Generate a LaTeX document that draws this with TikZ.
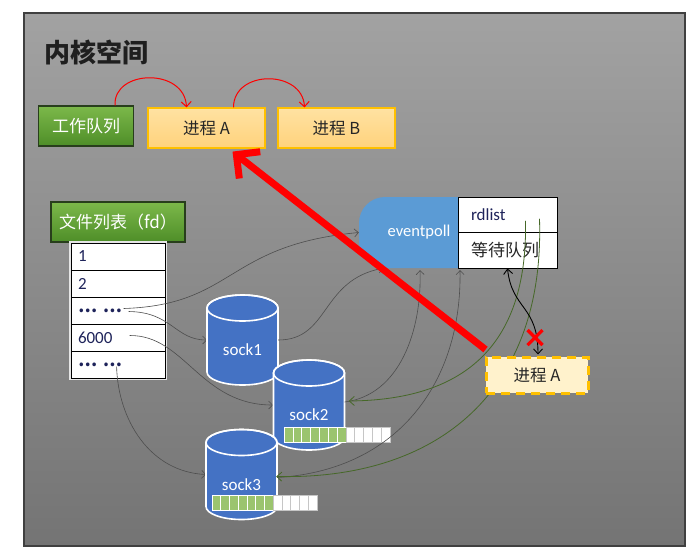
\documentclass[tikz,border=0pt]{standalone}
\usepackage{fontspec}
\setmainfont{Carlito}
\newfontfamily\cjk{Noto Sans CJK SC}
\usetikzlibrary{arrows.meta,calc}
\definecolor{panelTop}{RGB}{162,162,162}
\definecolor{panelBot}{RGB}{116,116,116}
\definecolor{gTop}{RGB}{124,184,74}
\definecolor{gBot}{RGB}{78,142,40}
\definecolor{gBorder}{RGB}{40,62,28}
\definecolor{yTop}{RGB}{255,226,162}
\definecolor{yBot}{RGB}{255,210,124}
\definecolor{yBorder}{RGB}{255,192,0}
\definecolor{sockBlue}{RGB}{68,114,196}
\definecolor{epBlue}{RGB}{91,155,213}
\definecolor{creamFill}{RGB}{255,242,204}
\definecolor{lineGray}{RGB}{78,78,78}
\definecolor{lineGreen}{RGB}{70,104,40}
\definecolor{barGreen}{RGB}{155,196,110}
\definecolor{navyText}{RGB}{30,35,90}
\definecolor{arrowRed}{RGB}{255,0,0}
\tikzset{
  greenbox/.style={draw=gBorder, line width=1.2pt, top color=gTop, bottom color=gBot,
    text=white, font=\cjk\fontsize{17}{20}\selectfont, inner sep=0pt},
  procbox/.style={draw=yBorder, line width=1.2pt, top color=yTop, bottom color=yBot,
    text=black!85, minimum width=117pt, minimum height=40pt, inner sep=0pt,
    font=\cjk\fontsize{16.5}{20}\selectfont},
  fdcell/.style={draw=black, line width=0.8pt, fill=white, minimum height=27pt,
    text width=80pt, align=left, inner xsep=7pt, inner ysep=0pt, text=navyText,
    font=\fontsize{17}{20}\selectfont},
  epcell/.style={draw=black, line width=0.8pt, fill=white, minimum height=35.5pt,
    text width=73pt, align=left, inner xsep=13pt, inner ysep=0pt},
  gline/.style={draw=lineGray, line width=0.6pt, -{Straight Barb[length=4pt,width=8pt]}},
  grline/.style={draw=lineGreen, line width=0.8pt, -{Straight Barb[length=5pt,width=9pt]}},
  redcurve/.style={draw=arrowRed, line width=1pt, -{Straight Barb[length=5pt,width=10pt]}},
  sock/.pic={
    \filldraw[fill=sockBlue, draw=white, line width=1.6pt]
      (-35.5,-32) -- (-35.5,32) arc[start angle=180,end angle=0,x radius=35.5,y radius=13]
      -- (35.5,-32) arc[start angle=0,end angle=-180,x radius=35.5,y radius=13] -- cycle;
    \draw[white, line width=1.6pt] (0,-32) ellipse[x radius=35.5,y radius=13];
    \node[inner sep=0pt, minimum width=71pt, minimum height=90pt] (-box) at (0,0) {};
    \node[text=white, font=\fontsize{17}{20}\selectfont] (-lbl) at (0,10) {#1};
  }
}
\begin{document}
\begin{tikzpicture}[x=1pt,y=-1pt]
\useasboundingbox (0,0) rectangle (696,555);
\fill[white] (0,0) rectangle (696,555);
\shade[top color=panelTop, bottom color=panelBot] (24,13) rectangle (685,546);
\draw[black!75, line width=1.2pt] (24,13) rectangle (685,546);

\node[font=\cjk\bfseries\fontsize{26}{30}\selectfont, text=black!88] (title) at (96,52) {内核空间};

% work queue and processes
\node[greenbox, minimum width=95pt, minimum height=40pt] (wq) at (86,126) {工作队列};
\node[procbox] (pa) at (206.5,128) {进程 A};
\node[procbox] (pb) at (336.5,128) {进程 B};
\draw[redcurve] ($(wq.north)+(29,0)$) .. controls ($(wq.north)+(27,-36)$) and ($(pa.north)+(-22,-40)$) .. ($(pa.north)+(-20,0)$);
\draw[redcurve] ($(pa.north)+(27,0)$) .. controls ($(pa.north)+(27,-38)$) and ($(pb.north)+(-34,-38)$) .. ($(pb.north)+(-32,0)$);

% file list
\node[greenbox, minimum width=134pt, minimum height=40pt] (fd) at (118,222) {文件列表（fd）};
\fill[gray!20] (69,241) rectangle (167,380);
\node[fdcell] (r1) at (118,256.5) {1};
\node[fdcell] (r2) at (118,283.5) {2};
\node[fdcell] (r3) at (118,310.5) {\cjk\bfseries … …};
\node[fdcell] (r4) at (118,337.5) {6000};
\node[fdcell] (r5) at (118,364.5) {\cjk\bfseries … …};

% eventpoll
\node[fill=epBlue, rounded corners=26pt, minimum width=140pt, minimum height=71pt, inner sep=0pt,
  text=white, font=\fontsize{16.5}{20}\selectfont] (ep) at (429,232.5) {\hspace*{-20pt}eventpoll};
\node[epcell, text=navyText, font=\fontsize{17}{20}\selectfont] (rd) at (507.5,214.75) {rdlist};
\node[epcell, text=black!85, font=\cjk\fontsize{17}{20}\selectfont] (wt) at (507.5,250.25) {等待队列};

% gray connectors
\draw[gline] ($(r3.west)+(53,-2)$) .. controls (235,305) and (225,245) .. (ep.west);
\draw[gline] ($(r3.west)+(58,1)$) .. controls (172,312) and (175,340) .. (207,340);
\draw[gline] ($(r4.west)+(59,-2)$) .. controls (185,335) and (200,405) .. (273,405);
\draw[gline] ($(r5.west)+(46,2)$) .. controls (118,420) and (150,472) .. (206,474.5);

% sockets
\pic (s1) at (242.5,340) {sock=sock1};
\pic (s2) at (309,405) {sock=sock2};
\pic (s3) at (241.5,474.5) {sock=sock3};
\foreach \i in {0,...,11}{
  \ifnum\i<7 \def\bc{barGreen}\def\bd{white}\else\def\bc{white}\def\bd{gray!45}\fi
  \filldraw[fill=\bc, draw=\bd, line width=0.6pt] ($(s2-box.center)+(-25+\i*8.83,22)$) rectangle ++(8.83,15);
  \filldraw[fill=\bc, draw=\bd, line width=0.6pt] ($(s3-box.center)+(-29.5+\i*8.75,20.5)$) rectangle ++(8.75,15);
}

\draw[gline] (s1-box.east) .. controls (330,340) and (320,280) .. ($(ep.south)+(-46,0)$);
\draw[gline] ($(s2-box.east)+(0,-3)$) .. controls (400,395) and (422,330) .. ($(ep.south)+(-9,2)$);
\draw[gline] ($(s3-box.east)+(0,3)$) .. controls (400,470) and (462,380) .. ($(ep.south)+(31,2)$);

% green connectors
\draw[grline] ($(rd.center)+(18,6)$) .. controls (528,350) and (460,400) .. ($(s2-box.east)+(4,-4)$);
\draw[grline] ($(rd.center)+(32,4)$) .. controls (545,390) and (440,480) .. ($(s3-box.east)+(-1,2)$);

% waiting process
\node[fill=creamFill, draw=yBorder, line width=3pt, dash pattern=on 9pt off 6pt,
  minimum width=102pt, minimum height=36pt, inner sep=0pt, text=black!85,
  font=\cjk\fontsize{16.5}{20}\selectfont] (pa2) at (537,375) {进程 A};
\draw[black, line width=0.9pt, {Straight Barb[length=5pt,width=9pt]}-{Straight Barb[length=5pt,width=9pt]}]
  (wt.south) .. controls (512,310) and (538,305) .. ($(pa2.north)+(1,-1)$);
\coordinate (xm) at ($(pa2.north)+(-2,-18)$);
\draw[arrowRed, line width=3.2pt] ($(xm)+(-7.5,-7.5)$) -- ($(xm)+(7.5,7.5)$)
  ($(xm)+(-7.5,7.5)$) -- ($(xm)+(7.5,-7.5)$);

% big red arrow
\draw[arrowRed, line width=7pt, -{Straight Barb[length=17pt,width=34pt]}]
  ($(pa2.north west)+(1,-6)$) -- ($(pa.south)+(26,3)$);
\end{tikzpicture}
\end{document}
